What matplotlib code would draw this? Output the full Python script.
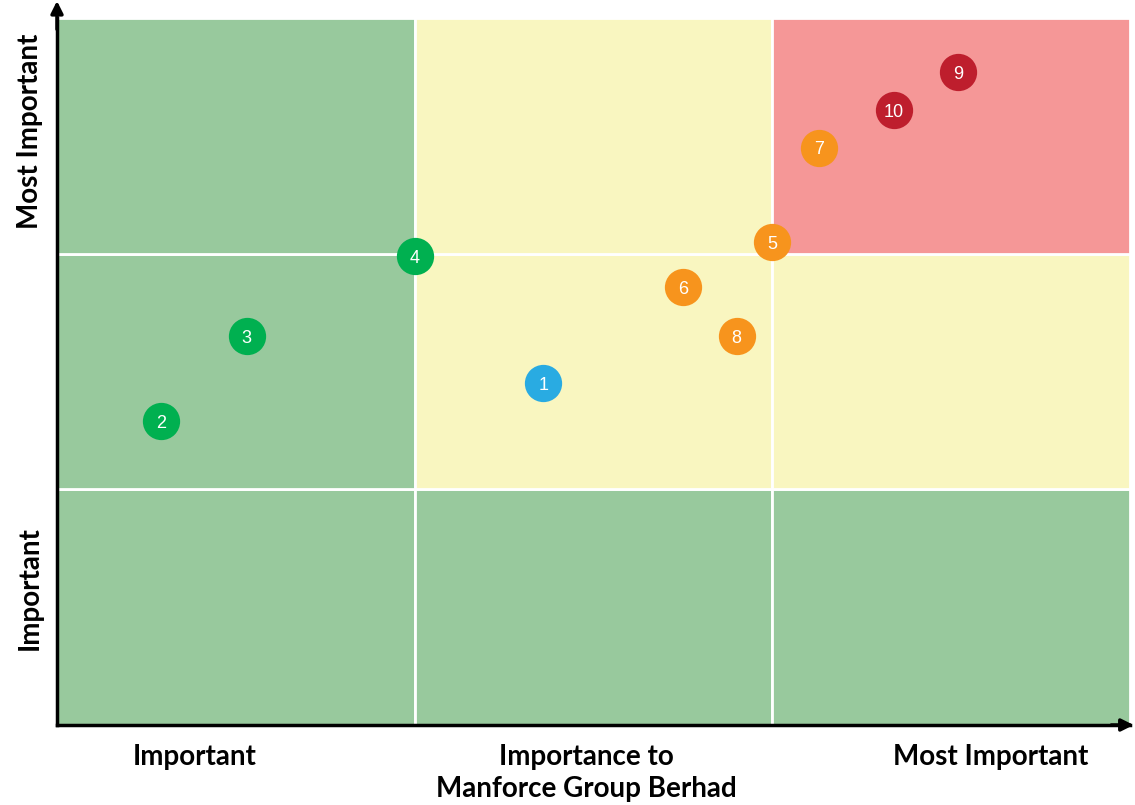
import matplotlib.pyplot as plt
from matplotlib.patches import Rectangle

# materiality matrix data
issue_ids = ["1", "2", "3", "4", "5", "6", "7", "8", "9", "10"]
x_vals = [1.36, 0.29, 0.53, 1.00, 2.00, 1.75, 2.13, 1.90, 2.52, 2.34]
y_vals = [1.45, 1.29, 1.65, 1.99, 2.05, 1.86, 2.45, 1.65, 2.77, 2.61]
levels = ["blue", "green", "green", "green", "high", "high", "high", "high", "top", "top"]

# zone of each cell, rows from bottom to top
cell_zones = [
    ["g", "g", "g"],
    ["g", "y", "y"],
    ["g", "y", "r"],
]
x_labels = ["Important", "Importance to\nManforce Group Berhad", "Most Important"]
y_labels = ["Important", "Most Important"]

zone_colors = {"g": "#98c99d", "y": "#f9f6c0", "r": "#f59797"}
dot_colors = {"blue": "#29abe2", "green": "#00b050", "high": "#f7941d", "top": "#be1e2d"}

plt.rcParams['font.family'] = ['Lato', 'DejaVu Sans']

fig = plt.figure(figsize=(11.35, 8.05), dpi=100)
ax = fig.add_axes([57/1135, 80/805, 1073/1135, 707/805])

for r, row in enumerate(cell_zones):
    for c, z in enumerate(row):
        ax.add_patch(Rectangle((c, r), 1, 1, facecolor=zone_colors[z],
                               edgecolor="white", linewidth=2))

ax.set_xlim(0, 3)
ax.set_ylim(0, 3)
ax.set_xticks([])
ax.set_yticks([])
for s in ["top", "right"]:
    ax.spines[s].set_visible(False)
for s in ["left", "bottom"]:
    ax.spines[s].set_linewidth(2.5)
    ax.spines[s].set_zorder(5)

# arrows at the ends of the axes
ax.annotate("", xy=(1.006, 0), xytext=(0.98, 0), xycoords="axes fraction",
            arrowprops=dict(arrowstyle="-|>", color="black", lw=2.5, mutation_scale=18),
            annotation_clip=False)
ax.annotate("", xy=(0, 1.028), xytext=(0, 0.98), xycoords="axes fraction",
            arrowprops=dict(arrowstyle="-|>", color="black", lw=2.5, mutation_scale=18),
            annotation_clip=False)

for i, lab in enumerate(issue_ids):
    ax.scatter(x_vals[i], y_vals[i], s=720, color=dot_colors[levels[i]],
               zorder=6, clip_on=False, linewidths=0)
    ax.text(x_vals[i], y_vals[i] - 0.01, lab, color="white", fontsize=13,
            family="Liberation Sans", ha="center", va="center", zorder=7)

xl_pos = [0.386, 1.479, 2.61]
for xp, lab in zip(xl_pos, x_labels):
    ax.text(xp, -0.08, lab, ha="center", va="top", fontsize=20,
            fontweight="bold", linespacing=1.3)
yl_pos = [0.58, 2.52]
for yp, lab in zip(yl_pos, y_labels):
    ax.text(-0.075, yp, lab, ha="center", va="center", rotation=90,
            fontsize=20, fontweight="bold")

fig.savefig("out.png", dpi=100)
